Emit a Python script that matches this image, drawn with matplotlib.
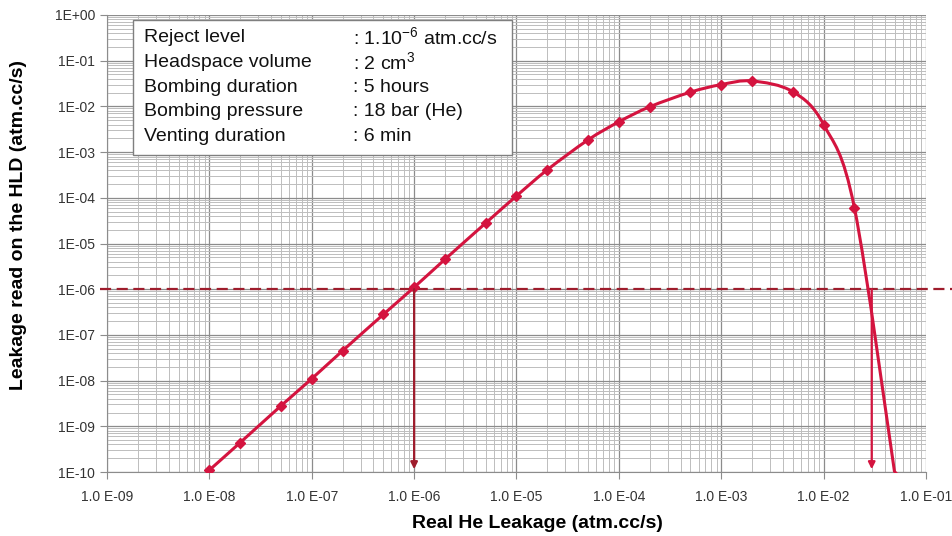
import numpy as np
import matplotlib
matplotlib.use("Agg")
import matplotlib.pyplot as plt
from matplotlib.path import Path
from matplotlib.patches import PathPatch
from matplotlib.ticker import LogLocator, FixedLocator

plt.rcParams['font.family'] = ['Liberation Sans', 'DejaVu Sans']

# ---- data ----
real_leak = [1e-8, 2e-8, 5e-8, 1e-7, 2e-7, 5e-7, 1e-6, 2e-6, 5e-6, 1e-5, 2e-5,
             5e-5, 1e-4, 2e-4, 5e-4, 1e-3, 2e-3, 5e-3, 1e-2, 2e-2, 5e-2]
hld_leak = [1.1e-10, 4.4e-10, 2.8e-9, 1.1e-8, 4.5e-8, 2.8e-7, 1.1e-6, 4.5e-6,
            2.8e-5, 1.1e-4, 4.1e-4, 1.85e-3, 4.6e-3, 9.8e-3, 2.05e-2, 3.0e-2,
            3.6e-2, 2.1e-2, 4.0e-3, 6.0e-5, 8e-11]
reject_level = 1e-6
reject_x = [1e-6, 2.95e-2]
x_ticks = [1e-9, 1e-8, 1e-7, 1e-6, 1e-5, 1e-4, 1e-3, 1e-2, 1e-1]
x_ticklabels = ["1.0 E-09", "1.0 E-08", "1.0 E-07", "1.0 E-06", "1.0 E-05",
                "1.0 E-04", "1.0 E-03", "1.0 E-02", "1.0 E-01"]
y_ticks = [10.0 ** k for k in range(-10, 1)]
y_ticklabels = ["1E-10", "1E-09", "1E-08", "1E-07", "1E-06", "1E-05",
                "1E-04", "1E-03", "1E-02", "1E-01", "1E+00"]
info_labels = ["Reject level", "Headspace volume", "Bombing duration",
               "Bombing pressure", "Venting duration"]
info_values = [r": 1.10$^{\mathregular{-6}}$ atm.cc/s", r": 2 cm$^{\mathregular{3}}$",
               ": 5 hours", ": 18 bar (He)", ": 6 min"]

curve_color = '#d4143f'
dark_red = '#9e1c2c'

fig = plt.figure(figsize=(9.53, 5.36), dpi=100)
ax = fig.add_axes([107/953, 1-472/536, (926-107)/953, (472-15)/536])
ax.set_xscale('log')
ax.set_yscale('log')
ax.set_xlim(1e-9, 1e-1)
ax.set_ylim(1e-10, 1e0)

# grid
ax.xaxis.set_minor_locator(LogLocator(base=10, subs=np.arange(2, 10), numticks=20))
ax.yaxis.set_minor_locator(LogLocator(base=10, subs=np.arange(2, 10), numticks=20))
ax.grid(True, which='major', color='#8c8c8c', lw=0.9)
ax.grid(True, which='minor', color='#bdbdbd', lw=0.7)
ax.set_axisbelow(True)
for s in ['top', 'right']:
    ax.spines[s].set_visible(False)
for s in ['left', 'bottom']:
    ax.spines[s].set_color('#8c8c8c')

ax.xaxis.set_major_locator(FixedLocator(x_ticks))
ax.set_xticklabels(x_ticklabels)
ax.yaxis.set_major_locator(FixedLocator(y_ticks))
ax.set_yticklabels(y_ticklabels)
ax.tick_params(which='major', length=5, color='#8c8c8c', labelsize=10,
               labelcolor='#333333')
ax.tick_params(which='minor', length=0)
ax.tick_params(axis='x', pad=8)

ax.set_xlabel("Real He Leakage (atm.cc/s)", fontsize=14, fontweight='bold')
ax.set_ylabel("Leakage read on the HLD (atm.cc/s)", fontsize=14, fontweight='bold')
ax.xaxis.set_label_coords(0.525, -0.095)
ax.yaxis.set_label_coords(-0.098, 0.54)

# smooth curve (Catmull-Rom in log space, rendered as Bezier path)
lx = np.log10(real_leak)
ly = np.log10(hld_leak)
n = len(lx)
verts = [(lx[0], ly[0])]
codes = [Path.MOVETO]
for i in range(n - 1):
    p0 = np.array([lx[max(i-1, 0)], ly[max(i-1, 0)]])
    p1 = np.array([lx[i], ly[i]])
    p2 = np.array([lx[i+1], ly[i+1]])
    p3 = np.array([lx[min(i+2, n-1)], ly[min(i+2, n-1)]])
    c1 = p1 + (p2 - p0) / 6.0
    c2 = p2 - (p3 - p1) / 6.0
    verts += [tuple(c1), tuple(c2), tuple(p2)]
    codes += [Path.CURVE4] * 3
verts = [(10 ** a, 10 ** b) for a, b in verts]
path = Path(verts, codes)
ax.add_patch(PathPatch(path, facecolor='none', edgecolor=curve_color, lw=2.2, zorder=4))
ax.plot(real_leak, hld_leak, linestyle='none', marker='D', ms=5.5,
        color=curve_color, zorder=5)

# reject level dashed line (extends beyond axes)
ax.plot([10 ** -9.07, 10 ** 0.27], [reject_level, reject_level], ls=(0, (5, 2.5)),
        color=dark_red, lw=1.6, clip_on=False, zorder=3)

# arrows
arrow_colors = [dark_red, curve_color]
for xv, c in zip(reject_x, arrow_colors):
    ax.annotate("", xy=(xv, 1.15e-10), xytext=(xv, reject_level),
                arrowprops=dict(arrowstyle='-|>', color=c, lw=1.6,
                                mutation_scale=10, shrinkA=0, shrinkB=0),
                zorder=6)

# info box
box = plt.Rectangle((133/953, 1-155/536), (512-133)/953, (155-20)/536,
                    transform=fig.transFigure, facecolor='white',
                    edgecolor='#7f7f7f', lw=1.0, zorder=10)
fig.add_artist(box)
for i, (lab, val) in enumerate(zip(info_labels, info_values)):
    yy = 1 - (38 + i * 24.5) / 536
    fig.text(144/953, yy, lab, fontsize=14, va='center', ha='left',
             color='#111111', zorder=11)
    fig.text(353/953, yy, val, fontsize=14, va='center', ha='left',
             color='#111111', zorder=11)

fig.savefig("out.png", dpi=100)
